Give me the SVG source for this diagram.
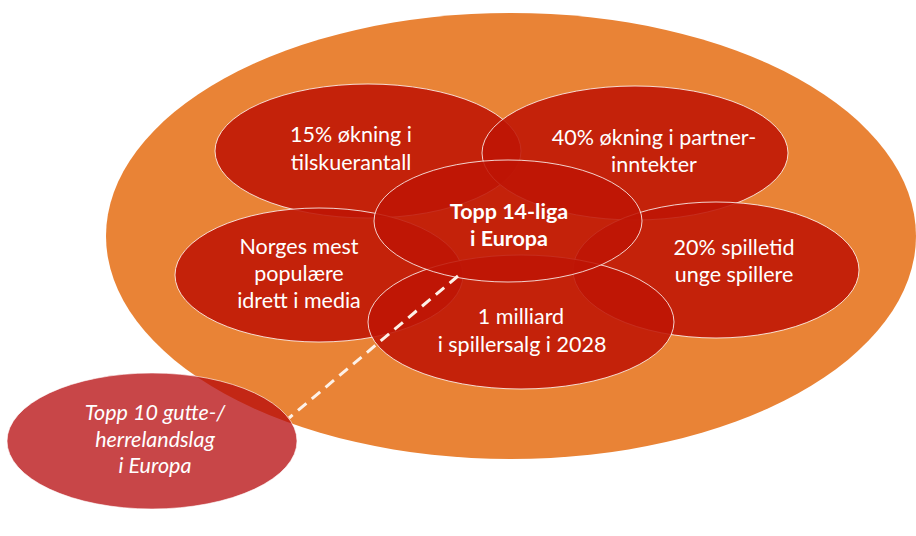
<svg xmlns="http://www.w3.org/2000/svg" width="916" height="536" viewBox="0 0 916 536">
<style>
.bubble{fill:rgb(190,20,5);fill-opacity:0.88;stroke:#ffffff;stroke-opacity:0.8;stroke-width:1}
.lbl{font-family:Lato,"Open Sans","Liberation Sans",sans-serif;font-size:21.5px;fill:#ffffff;text-anchor:middle}
.bold{font-weight:bold}
.ital{font-style:italic}
</style>
<rect width="916" height="536" fill="#ffffff"/>
<g id="outer">
<ellipse cx="511" cy="236" rx="405" ry="223" fill="#e98336"/>
</g>
<g id="n-tilskuer">
<ellipse class="bubble" cx="368" cy="151" rx="153" ry="67"/>
<text class="lbl" x="351" y="142">15% økning i</text>
<text class="lbl" x="351" y="170">tilskuerantall</text>
</g>
<g id="n-partner">
<ellipse class="bubble" cx="635" cy="153" rx="153" ry="67"/>
<text class="lbl" x="654" y="145">40% økning i partner-</text>
<text class="lbl" x="654" y="172">inntekter</text>
</g>
<g id="n-norges">
<ellipse class="bubble" cx="319" cy="275" rx="144" ry="67"/>
<text class="lbl" x="299" y="254">Norges mest</text>
<text class="lbl" x="299" y="281">populære</text>
<text class="lbl" x="299" y="308">idrett i media</text>
</g>
<g id="n-spilletid">
<ellipse class="bubble" cx="716" cy="270" rx="143" ry="68"/>
<text class="lbl" x="734" y="255">20% spilletid</text>
<text class="lbl" x="734" y="282">unge spillere</text>
</g>
<g id="n-milliard">
<ellipse class="bubble" cx="521" cy="322" rx="153" ry="67"/>
<text class="lbl" x="521" y="324">1 milliard</text>
<text class="lbl" x="522" y="352">i spillersalg i 2028</text>
</g>
<g id="n-topp14">
<ellipse class="bubble" cx="508" cy="221" rx="134" ry="61"/>
<text class="lbl bold" x="509" y="219">Topp 14-liga</text>
<text class="lbl bold" x="509" y="246">i Europa</text>
</g>
<g id="n-landslag">
<ellipse cx="152" cy="441" rx="145" ry="68" fill="rgb(182,8,11)" fill-opacity="0.75" stroke="#ffffff" stroke-opacity="0.6" stroke-width="1"/>
<text class="lbl ital" x="155" y="420">Topp 10 gutte-/</text>
<text class="lbl ital" x="155" y="447">herrelandslag</text>
<text class="lbl ital" x="155" y="473">i Europa</text>
</g>
<g id="connectors">
<line x1="458" y1="276" x2="289" y2="418" stroke="#fdf1e8" stroke-width="3" stroke-dasharray="11,7"/>
</g>
</svg>
